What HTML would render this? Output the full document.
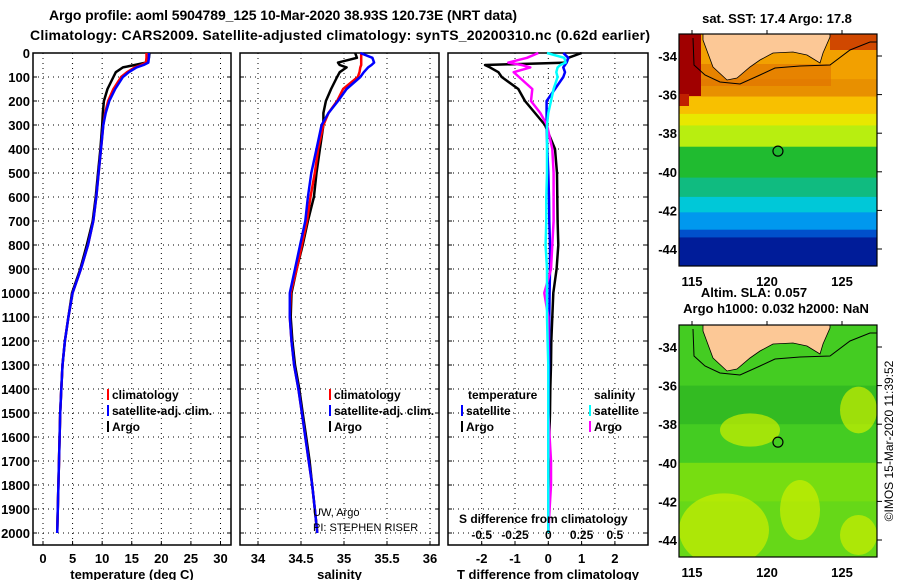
<!DOCTYPE html>
<html><head><meta charset="utf-8"><style>
body{margin:0;background:#fff}
svg{display:block}
text{font-family:"Liberation Sans",sans-serif;font-weight:bold;fill:#000}
</style></head><body>
<svg id="c" width="900" height="580" viewBox="0 0 900 580">
<defs>
<clipPath id="cm1"><rect x="679" y="34" width="198" height="232"/></clipPath>
<clipPath id="cm2"><rect x="679" y="325" width="198" height="232"/></clipPath>
</defs>
<text x="283" y="20" font-size="14" text-anchor="middle" textLength="468">Argo profile: aoml 5904789_125 10-Mar-2020 38.93S 120.73E (NRT data)</text>
<text x="340" y="40" font-size="14" text-anchor="middle" textLength="620">Climatology: CARS2009. Satellite-adjusted climatology: synTS_20200310.nc (0.62d earlier)</text>
</svg>
<script>
const depths=[0,20,40,50,60,80,100,150,200,250,300,400,500,600,700,800,900,1000,1100,1200,1300,1400,1500,1600,1700,1800,1900,2000];
const tempArgo=[18.0,17.9,17.4,15.5,13.5,12.3,11.9,10.9,10.3,10.1,10.0,9.7,9.3,8.9,8.4,7.4,6.3,4.9,4.3,3.7,3.3,3.1,2.9,2.8,2.7,2.6,2.5,2.4];
const tempClim=[17.5,17.5,17.4,16.6,15.5,14.2,13.2,11.9,11.0,10.5,10.2,9.8,9.4,9.0,8.5,7.6,6.4,5.0,4.3,3.7,3.3,3.1,2.9,2.8,2.7,2.6,2.5,2.4];
const tempSat=[17.9,17.9,17.8,17.0,15.8,14.5,13.5,12.2,11.2,10.6,10.2,9.8,9.4,9.0,8.5,7.6,6.4,5.0,4.3,3.7,3.3,3.1,2.9,2.8,2.7,2.6,2.5,2.4];
const salArgo=[35.13,35.15,34.93,34.95,35.03,34.95,34.92,34.85,34.79,34.76,34.76,34.72,34.68,34.65,34.58,34.52,34.45,34.39,34.38,34.40,34.43,34.48,34.52,34.56,34.60,34.63,34.66,34.69];
const salClim=[35.20,35.20,35.20,35.20,35.19,35.18,35.16,34.99,34.92,34.82,34.76,34.70,34.66,34.61,34.57,34.51,34.45,34.38,34.37,34.39,34.42,34.47,34.51,34.55,34.59,34.63,34.66,34.69];
const salSat=[35.19,35.33,35.35,35.32,35.28,35.23,35.19,35.03,34.93,34.82,34.74,34.68,34.62,34.58,34.55,34.49,34.43,34.37,34.37,34.39,34.42,34.47,34.51,34.55,34.59,34.63,34.66,34.69];
const tDiffArgo=[1.0,0.6,0.55,-1.9,-1.75,-1.5,-1.4,-0.9,-0.7,-0.4,-0.1,0.2,0.26,0.27,0.28,0.3,0.25,0.15,0.12,0.09,0.08,0.06,0.05,0.03,0.02,0.01,0.0,0.0];
const tDiffSat=[0.45,0.6,0.55,0.5,0.45,0.5,0.45,0.2,-0.05,-0.05,-0.05,-0.03,0,0.02,0.03,0.05,0.05,0.04,0.03,0.02,0.02,0.01,0.01,0,0,0,0,0];
const sDiffArgo=[-0.075,-0.16,-0.3,-0.2,-0.135,-0.26,-0.22,-0.12,-0.13,-0.06,-0.01,0.03,0.04,0.04,0.04,0.03,0.02,-0.03,0.0,0.0,0.0,0.0,0.0,0.01,0.02,0.02,0.01,0.0];
const sDiffSat=[-0.01,0.12,0.13,0.09,0.07,0.06,0.07,0.04,0.02,0.0,-0.01,-0.01,-0.01,-0.015,-0.015,-0.02,-0.01,-0.01,-0.01,-0.005,0,0,0,0,0,0,0,0];
const depthTicks=[0,100,200,300,400,500,600,700,800,900,1000,1100,1200,1300,1400,1500,1600,1700,1800,1900,2000];
const tempTicks=[0,5,10,15,20,25,30];
const salTicks=[34,34.5,35,35.5,36];
const tdTicks=[-2,-1,0,1,2];
const sdTicks=[-0.5,-0.25,0,0.25,0.5];

const NS='http://www.w3.org/2000/svg';
const svg=document.getElementById('c');
function mk(tag,at,parent){const e=document.createElementNS(NS,tag);for(const k in at)e.setAttribute(k,at[k]);(parent||svg).appendChild(e);return e;}
const Y0=53,Y1=545;
const yD=d=>Y0+d*0.24;
function lin(d0,d1,p0,p1){return v=>p0+(v-d0)*(p1-p0)/(d1-d0);}

function panel(name,x0,x1,xs,ticks,fmt,label){
  const g=mk('g',{});
  
  
  mk('rect',{x:x0,y:Y0,width:x1-x0,height:Y1-Y0,fill:'#fff',stroke:'#000','stroke-width':1.5},g);
  depthTicks.forEach(d=>{
    if(d>0) mk('line',{x1:x0,x2:x1,y1:yD(d),y2:yD(d),stroke:'#000','stroke-dasharray':'1 4','stroke-width':1},g);
    mk('line',{x1:x0,x2:x0+4,y1:yD(d),y2:yD(d),stroke:'#000'},g);
    mk('line',{x1:x1,x2:x1-4,y1:yD(d),y2:yD(d),stroke:'#000'},g);
  });
  ticks.forEach(t=>{
    const x=xs(t);
    mk('line',{x1:x,x2:x,y1:Y0,y2:Y1,stroke:'#000','stroke-dasharray':'1 4'},g);
    mk('line',{x1:x,x2:x,y1:Y1,y2:Y1-4,stroke:'#000'},g);
    const tx=mk('text',{x:x,y:563,'font-size':13,'text-anchor':'middle'},g);
    tx.textContent=fmt(t);
    
    
  });
  const lb=mk('text',{x:(x0+x1)/2,y:579,'font-size':13,'text-anchor':'middle'},g);
  lb.textContent=label;
  
  
  return g;
}
function line(g,name,vals,xs,color,w){
  const pts=vals.map((v,i)=>xs(v).toFixed(1)+','+yD(depths[i]).toFixed(1)).join(' ');
  const p=mk('polyline',{points:pts,fill:'none',stroke:color,'stroke-width':w||2.5,'stroke-linejoin':'round'},g);
  
  
}
function legend(g,x,y,color,txt,name){
  mk('rect',{x:x,y:y-10,width:2,height:11,fill:color},g);
  const t=mk('text',{x:x+5,y:y,'font-size':12},g);
  t.textContent=txt;
  
  
}

const xT=lin(0,30,43,220.5);
const p1=panel('temperature-panel',33,231,xT,tempTicks,v=>String(v),'temperature (deg C)');
depthTicks.forEach(d=>{const t=mk('text',{x:30,y:yD(d)+5,'font-size':13,'text-anchor':'end'},p1);t.textContent=d;

});
line(p1,'temp-argo-line',tempArgo,xT,'#000');
line(p1,'temp-climatology-line',tempClim,xT,'#f00');
line(p1,'temp-satellite-line',tempSat,xT,'#00f');
legend(p1,107,399,'#f00','climatology','legend-climatology');
legend(p1,107,415,'#00f','satellite-adj. clim.','legend-satellite');
legend(p1,107,431,'#000','Argo','legend-argo');

const xS=lin(34,36,258,430);
const p2=panel('salinity-panel',240,439,xS,salTicks,v=>String(v),'salinity');
line(p2,'sal-argo-line',salArgo,xS,'#000');
line(p2,'sal-climatology-line',salClim,xS,'#f00');
line(p2,'sal-satellite-line',salSat,xS,'#00f');
legend(p2,329,399,'#f00','climatology','legend-climatology');
legend(p2,329,415,'#00f','satellite-adj. clim.','legend-satellite');
legend(p2,329,431,'#000','Argo','legend-argo');
[['UW, Argo',516],['PI: STEPHEN RISER',531]].forEach(a=>{const t=mk('text',{x:313,y:a[1],'font-size':11},p2);t.style.fontWeight='normal';t.textContent=a[0];

});

const xTD=lin(-1,1,515,581.6);
const xSD=lin(-0.25,0.25,515,581.6);
const p3=panel('difference-panel',448,648,xTD,tdTicks,v=>String(v),'T difference from climatology');
line(p3,'tdiff-argo-line',tDiffArgo,xTD,'#000');
line(p3,'tdiff-satellite-line',tDiffSat,xTD,'#00f');
line(p3,'sdiff-argo-line',sDiffArgo,xSD,'#f0f');
line(p3,'sdiff-satellite-line',sDiffSat,xSD,'#0ff');
const h1=mk('text',{x:468,y:399,'font-size':12},p3);h1.textContent='temperature';


const h2=mk('text',{x:594,y:399,'font-size':12},p3);h2.textContent='salinity';


legend(p3,461,415,'#00f','satellite','legend-t-satellite');
legend(p3,461,431,'#000','Argo','legend-t-argo');
legend(p3,589,415,'#0ff','satellite','legend-s-satellite');
legend(p3,589,431,'#f0f','Argo','legend-s-argo');
const st=mk('text',{x:459,y:523,'font-size':12},p3);st.textContent='S difference from climatology';


sdTicks.forEach(v=>{const t=mk('text',{x:xSD(v),y:539,'font-size':12,'text-anchor':'middle'},p3);t.textContent=String(v);

});

const lx=lon=>692+(lon-115)*15;
const latTicks=[-34,-36,-38,-40,-42,-44];
const lonTicks=[115,120,125];
function map(name,top,clip,bands,extra){
  const g=mk('g',{});
  
  
  const ly=lat=>top+22+(-34-lat)*19.3;
  const bot=top+232;
  const inner=mk('g',{'clip-path':'url(#'+clip+')'},g);
  bands.forEach(b=>mk('rect',{x:679,y:ly(b[0]),width:198,height:ly(b[1])-ly(b[0])+0.5,fill:b[2]},inner));
  if(extra) extra(inner,top);
  const s=top-34;
  const land=[[703,34],[703,40],[713,67],[727,80],[737,78],[750,67],[760,60],[773,53],[793,52],[807,55],[820,63],[823,53],[830,37],[830,34]];
  mk('polygon',{points:land.map(p=>p[0]+','+(p[1]+s)).join(' '),fill:'#fcc896',stroke:'#000','stroke-width':0.8},inner);
  const cont=[[693,38],[694,65],[705,75],[720,82],[740,84],[760,75],[775,68],[800,66],[830,65],[850,50],[870,42],[877,42]];
  mk('polyline',{points:cont.map(p=>p[0]+','+(p[1]+s)).join(' '),fill:'none',stroke:'#000','stroke-width':1},inner);
  const c=mk('circle',{cx:lx(120.73),cy:ly(-38.93),r:5,fill:'none',stroke:'#000','stroke-width':1.2},g);
  
  
  mk('rect',{x:679,y:top,width:198,height:232,fill:'none',stroke:'#000','stroke-width':1.2},g);
  latTicks.forEach(l=>{mk('line',{x1:877,x2:882,y1:ly(l),y2:ly(l),stroke:'#000'},g);
    const t=mk('text',{x:677,y:ly(l)+5,'font-size':13,'text-anchor':'end'},g);t.textContent=String(l);
    
    });
  lonTicks.forEach(l=>{mk('line',{x1:lx(l),x2:lx(l),y1:top,y2:top-4,stroke:'#000'},g);
    const t=mk('text',{x:lx(l),y:bot+20,'font-size':13,'text-anchor':'middle'},g);t.textContent=String(l);
    
    });
  return g;
}
map('sst-map',34,'cm1',[[-32.8,-35.2,'#f2a000'],[-35.2,-36.1,'#e89000'],[-36.1,-37.0,'#f8c000'],[-37.0,-37.6,'#e8e800'],[-37.6,-38.7,'#b8ee10'],[-38.7,-40.3,'#20bb30'],[-40.3,-41.3,'#10bb80'],[-41.3,-42.1,'#00c8d8'],[-42.1,-43.0,'#0098ee'],[-43.0,-43.4,'#0050cc'],[-43.4,-45.1,'#001c99']],
 (g,top)=>{mk('rect',{x:679,y:top,width:22,height:62,fill:'#a00000'},g);
  mk('rect',{x:679,y:top+60,width:10,height:12,fill:'#c02000'},g);
  mk('rect',{x:830,y:top,width:47,height:16,fill:'#d04800'},g);
  mk('rect',{x:701,y:top+30,width:130,height:22,fill:'#e07000','opacity':0.6},g);});
map('sla-map',325,'cm2',[[-32.8,-36.0,'#44cc22'],[-36.0,-38.0,'#33bb22'],[-38.0,-40.0,'#44cc22'],[-40.0,-42.0,'#77dd11'],[-42.0,-45.1,'#66d818']],
 (g,top)=>{[[679,top+210,90,110],[840,top+110,37,70],[720,top+140,60,50],[840,top+240,37,60],[780,top+200,40,90]].forEach(r=>
   mk('ellipse',{cx:r[0]+r[2]/2,cy:r[1]-60+r[3]/2,rx:r[2]/2,ry:r[3]/3,fill:'#ccee00',opacity:0.7},g));});
const mt=[['sat. SST: 17.4 Argo: 17.8',777,23,'sst-map-title'],['Altim. SLA: 0.057',754,297,'sla-title'],['Argo h1000: 0.032 h2000: NaN',776,313,'height-title']];
mt.forEach(a=>{const t=mk('text',{x:a[1],y:a[2],'font-size':13,'text-anchor':'middle'});t.textContent=a[0];

});
const cr=mk('text',{x:0,y:0,'font-size':12,'text-anchor':'middle',transform:'translate(893,441) rotate(-90)'});
cr.style.fontWeight='normal';
cr.textContent='©IMOS 15-Mar-2020 11:39:52';


</script>
</body></html>
